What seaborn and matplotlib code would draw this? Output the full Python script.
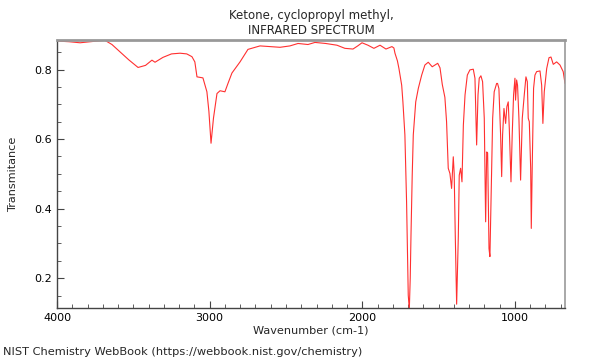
import numpy as np
import pandas as pd
import matplotlib
matplotlib.use("Agg")
import matplotlib.pyplot as plt
from matplotlib.ticker import MultipleLocator
import seaborn as sns

# 光谱数据
wavenumber = [4000, 3920, 3849, 3760, 3686, 3640, 3587, 3530, 3469, 3420,
              3378, 3358, 3306, 3250, 3194, 3150, 3116, 3097, 3083, 3044,
              3018, 3005, 2991, 2975, 2952, 2932, 2900, 2880, 2854, 2801,
              2749, 2670, 2600, 2539, 2474, 2421, 2356, 2310, 2240, 2166,
              2114, 2061, 2030, 2002, 1963, 1924, 1884, 1845, 1806, 1793,
              1786, 1770, 1760, 1742, 1734, 1721, 1710, 1699, 1692, 1686,
              1681, 1673, 1666, 1650, 1633, 1611, 1590, 1568, 1542, 1506,
              1491, 1476, 1459, 1448, 1437, 1426, 1415, 1404, 1398, 1391,
              1382, 1371, 1365, 1356, 1347, 1338, 1327, 1312, 1295, 1273,
              1262, 1251, 1242, 1234, 1223, 1212, 1201, 1192, 1185, 1179,
              1170, 1164, 1157, 1146, 1136, 1120, 1114, 1105, 1094, 1087,
              1081, 1072, 1061, 1053, 1044, 1037, 1026, 1018, 1009, 1000,
              996, 989, 983, 974, 963, 952, 939, 928, 919, 913,
              906, 897, 893, 887, 878, 869, 858, 836, 825, 817,
              808, 792, 777, 764, 749, 727, 705, 684, 672]
transmittance = [0.882, 0.880, 0.877, 0.881, 0.884, 0.872, 0.851, 0.828, 0.806, 0.812,
                 0.827, 0.821, 0.835, 0.845, 0.847, 0.845, 0.837, 0.822, 0.779, 0.776,
                 0.736, 0.680, 0.588, 0.660, 0.731, 0.739, 0.736, 0.760, 0.790, 0.822,
                 0.858, 0.868, 0.866, 0.864, 0.868, 0.875, 0.872, 0.878, 0.875, 0.870,
                 0.861, 0.859, 0.868, 0.877, 0.870, 0.861, 0.870, 0.859, 0.866, 0.862,
                 0.847, 0.825, 0.803, 0.755, 0.707, 0.612, 0.420, 0.151, 0.110, 0.200,
                 0.324, 0.496, 0.612, 0.707, 0.746, 0.784, 0.813, 0.821, 0.808, 0.818,
                 0.805, 0.757, 0.720, 0.650, 0.516, 0.501, 0.458, 0.549, 0.500, 0.324,
                 0.125, 0.320, 0.496, 0.516, 0.477, 0.640, 0.727, 0.784, 0.799, 0.801,
                 0.775, 0.583, 0.727, 0.775, 0.782, 0.765, 0.660, 0.362, 0.563, 0.560,
                 0.285, 0.262, 0.420, 0.660, 0.736, 0.760, 0.760, 0.745, 0.612, 0.492,
                 0.612, 0.688, 0.645, 0.693, 0.707, 0.630, 0.477, 0.612, 0.727, 0.775,
                 0.712, 0.770, 0.755, 0.660, 0.482, 0.660, 0.727, 0.779, 0.765, 0.660,
                 0.650, 0.516, 0.343, 0.516, 0.746, 0.784, 0.794, 0.796, 0.755, 0.645,
                 0.736, 0.803, 0.834, 0.836, 0.815, 0.822, 0.813, 0.794, 0.760]

title_text = "Ketone, cyclopropyl methyl,\nINFRARED SPECTRUM"
footer_text = "NIST Chemistry WebBook (https://webbook.nist.gov/chemistry)"

df = pd.DataFrame({"wavenumber": wavenumber, "transmittance": transmittance})

sns.set_style("ticks")
plt.rcParams["font.family"] = ["DejaVu Sans"]

fig = plt.figure(figsize=(6, 3.6), dpi=100)
ax = fig.add_axes([0.095, 0.1444, 0.8467, 0.7445])

sns.lineplot(data=df, x="wavenumber", y="transmittance", ax=ax,
             color="#ff3030", linewidth=0.8, estimator=None, sort=True)

ax.set_xlim(4000, 672)
ax.set_ylim(0.114, 0.885)
ax.xaxis.set_major_locator(MultipleLocator(1000))
ax.xaxis.set_minor_locator(MultipleLocator(100))
ax.yaxis.set_major_locator(MultipleLocator(0.2))
ax.yaxis.set_minor_locator(MultipleLocator(0.05))
ax.tick_params(which="both", direction="in", labelsize=8, colors="black")
ax.tick_params(which="major", length=5, color="#444444")
ax.tick_params(which="minor", length=3, color="#444444")
ax.tick_params(top=False, right=False)

for s in ["top", "right"]:
    ax.spines[s].set_visible(True)
    ax.spines[s].set_color("#999999")
ax.spines["top"].set_linewidth(2)
ax.spines["right"].set_linewidth(1.2)
for s in ["left", "bottom"]:
    ax.spines[s].set_color("#444444")
    ax.spines[s].set_linewidth(1)

ax.set_xlabel("Wavenumber (cm-1)", fontsize=8.1, labelpad=2)
ax.set_ylabel("Transmitance", fontsize=8.1, labelpad=12)
ax.set_title(title_text, fontsize=8.5, pad=4)
fig.text(0.005, 0.0222, footer_text, fontsize=8.2, ha="left", va="center")

fig.savefig("out.png", dpi=100)
